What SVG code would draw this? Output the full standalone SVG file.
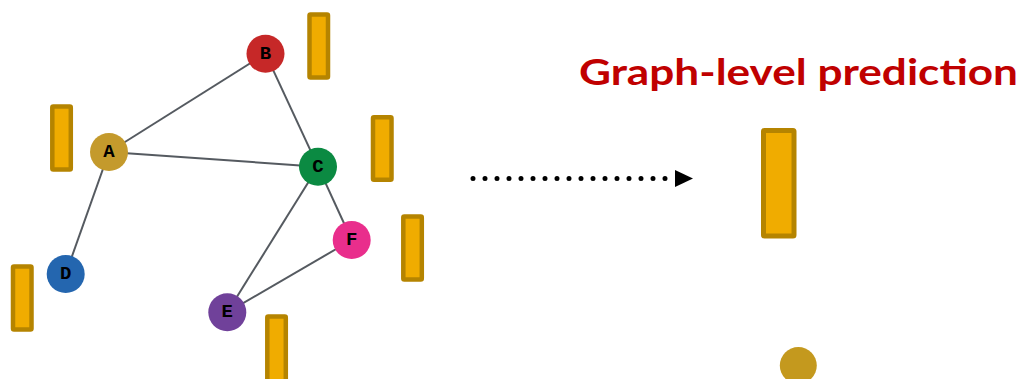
<svg xmlns="http://www.w3.org/2000/svg" width="1025" height="379" viewBox="0 0 1025 379">
<style>
.edge{stroke:#555a60;stroke-width:2;fill:none}
.bar{fill:#F0AC00;stroke:#B58400;stroke-width:4.5}
.lbl{font-family:"Courier New","Liberation Serif",serif;font-weight:bold;font-size:19px;fill:#000;text-anchor:middle;dominant-baseline:central}
.title{font-family:Lato,"Open Sans","Liberation Sans",sans-serif;font-weight:bold;font-size:37px;fill:#C00000}
</style>
<rect width="1025" height="379" fill="#fff"/>
<g id="connectors">
<line class="edge" x1="109" y1="152" x2="265.5" y2="53.7"/>
<line class="edge" x1="109" y1="152" x2="318" y2="166.7"/>
<line class="edge" x1="265.5" y1="53.7" x2="318" y2="166.7"/>
<line class="edge" x1="109" y1="152" x2="65.7" y2="274"/>
<line class="edge" x1="318" y1="166.7" x2="227.3" y2="312.3"/>
<line class="edge" x1="318" y1="166.7" x2="351.7" y2="240"/>
<line class="edge" x1="351.7" y1="240" x2="227.3" y2="312.3"/>
</g>
<g id="bars">
<rect class="bar" x="309.5" y="14.5" width="18.5" height="63" rx="1"/>
<rect class="bar" x="52.3" y="106.5" width="18.5" height="63" rx="1"/>
<rect class="bar" x="373" y="117.3" width="18.5" height="62.5" rx="1"/>
<rect class="bar" x="403.3" y="216.5" width="18.5" height="63" rx="1"/>
<rect class="bar" x="13" y="266.5" width="18.5" height="63" rx="1"/>
<rect class="bar" x="267.3" y="316.5" width="18.5" height="70" rx="1"/>
</g>
<g id="node-A"><circle cx="109" cy="152" r="19" fill="#C49A2C"/><text class="lbl" x="109" y="152">A</text></g>
<g id="node-B"><circle cx="265.5" cy="53.7" r="19" fill="#C62828"/><text class="lbl" x="265.5" y="53.7">B</text></g>
<g id="node-C"><circle cx="318" cy="166.7" r="19" fill="#0B8A42"/><text class="lbl" x="318" y="166.7">C</text></g>
<g id="node-D"><circle cx="65.7" cy="274" r="19" fill="#2466AF"/><text class="lbl" x="65.7" y="274">D</text></g>
<g id="node-E"><circle cx="227.3" cy="312.3" r="19" fill="#70419A"/><text class="lbl" x="227.3" y="312.3">E</text></g>
<g id="node-F"><circle cx="351.7" cy="240" r="19" fill="#E92E8C"/><text class="lbl" x="351.7" y="240">F</text></g>
<g id="arrow">
<line x1="473" y1="178.5" x2="666" y2="178.5" stroke="#000" stroke-width="5" stroke-linecap="round" stroke-dasharray="0 12"/>
<polygon points="675,170 693,178.5 675,187" fill="#000"/>
</g>
<g id="title"><text class="title" x="579" y="84.5" textLength="439" lengthAdjust="spacingAndGlyphs">Graph-level prediction</text></g>
<g id="graph-output">
<rect x="763.5" y="130.5" width="30.5" height="105.5" rx="1" fill="#F0AC00" stroke="#B58400" stroke-width="5"/>
</g>
<g id="graph-node"><circle cx="798.3" cy="365.5" r="18.5" fill="#C4991E"/></g>
</svg>
